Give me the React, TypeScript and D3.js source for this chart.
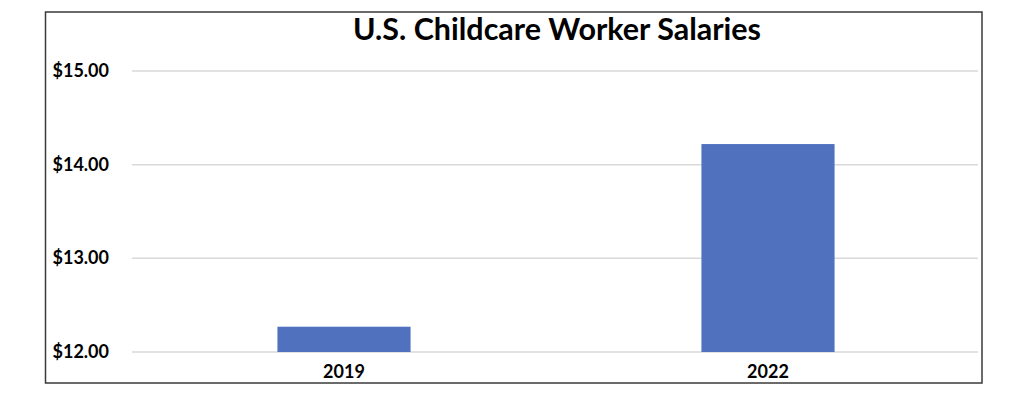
import * as d3 from "d3";
import { useEffect, useRef } from "react";

// chart data
const years = ["2019", "2022"];
const salaries = [12.27, 14.22];
const yTicks = [12, 13, 14, 15];

const W = 1024;
const H = 408;

export default function App() {
  const ref = useRef<SVGSVGElement | null>(null);

  useEffect(() => {
    const svg = d3.select(ref.current);
    svg.selectAll("*").remove();

    const font = "Lato, 'Open Sans', sans-serif";
    const plot = { left: 132, right: 980, top: 71, bottom: 352 };

    // outer frame
    svg
      .append("rect")
      .attr("x", 45.5)
      .attr("y", 12)
      .attr("width", 936.5)
      .attr("height", 371)
      .attr("fill", "#fff")
      .attr("stroke", "#3a3a3a")
      .attr("stroke-width", 1.5);

    const x = d3
      .scaleBand<string>()
      .domain(years)
      .range([plot.left, plot.right])
      .paddingInner(0.686)
      .paddingOuter(0.343);

    const y = d3
      .scaleLinear()
      .domain([12, 15])
      .range([plot.bottom, plot.top]);

    // gridlines
    svg
      .append("g")
      .selectAll("line")
      .data(yTicks)
      .enter()
      .append("line")
      .attr("x1", plot.left)
      .attr("x2", plot.right - 2)
      .attr("y1", (d) => y(d))
      .attr("y2", (d) => y(d))
      .attr("stroke", "#d9d9d9")
      .attr("stroke-width", 1.5);

    // y labels
    svg
      .append("g")
      .selectAll("text")
      .data(yTicks)
      .enter()
      .append("text")
      .attr("x", 109)
      .attr("y", (d) => y(d))
      .attr("dy", "0.33em")
      .attr("text-anchor", "end")
      .attr("font-family", font)
      .attr("font-weight", "bold")
      .attr("font-size", 18)
      .attr("fill", "#000")
      .text((d) => d3.format("$.2f")(d));

    // bars
    svg
      .append("g")
      .selectAll("rect")
      .data(salaries)
      .enter()
      .append("rect")
      .attr("x", (d, i) => x(years[i])!)
      .attr("y", (d) => y(d))
      .attr("width", x.bandwidth())
      .attr("height", (d) => y(12) - y(d))
      .attr("fill", "#4f71be");

    // x labels
    svg
      .append("g")
      .selectAll("text")
      .data(years)
      .enter()
      .append("text")
      .attr("x", (d) => x(d)! + x.bandwidth() / 2)
      .attr("y", 378)
      .attr("text-anchor", "middle")
      .attr("font-family", font)
      .attr("font-weight", "bold")
      .attr("font-size", 18)
      .attr("fill", "#000")
      .text((d) => d);

    // title
    svg
      .append("text")
      .attr("x", 557)
      .attr("y", 40)
      .attr("text-anchor", "middle")
      .attr("font-family", font)
      .attr("font-weight", "bold")
      .attr("font-size", 30)
      .attr("textLength", 408)
      .attr("lengthAdjust", "spacingAndGlyphs")
      .attr("fill", "#000")
      .text("U.S. Childcare Worker Salaries");
  }, []);

  return (
    <div style={{ position: "fixed", left: 0, top: 0 }}>
      <svg ref={ref} width={W} height={H} style={{ display: "block", background: "#fff" }} />
    </div>
  );
}
